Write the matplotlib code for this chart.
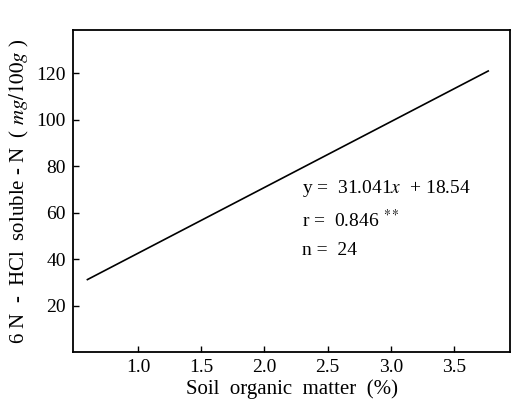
import matplotlib.pyplot as plt

plt.rcParams['font.family'] = ['Liberation Serif', 'DejaVu Serif']
plt.rcParams['mathtext.fontset'] = 'stix'

# regression line endpoints
x_line = [0.60, 3.77]
y_line = [31.2, 121.0]

x_ticks = [1.0, 1.5, 2.0, 2.5, 3.0, 3.5]
y_ticks = [20, 40, 60, 80, 100, 120]

stats = ['y =  31.041$x$  + 18.54', 'r =  0.846 $^{**}$', 'n =  24']

fig = plt.figure(figsize=(5.13, 4.07), dpi=100)
ax = fig.add_axes([0.1423, 0.135, 0.852, 0.791])

ax.plot(x_line, y_line, color='black', lw=1.2)

ax.set_xlim(0.486, 3.943)
ax.set_ylim(0, 138.6)
ax.set_xticks(x_ticks)
ax.set_xticklabels([f'{v:.1f}' for v in x_ticks])
ax.set_yticks(y_ticks)
ax.tick_params(direction='in', length=4, width=1, labelsize=14, pad=5)
for s in ax.spines.values():
    s.set_linewidth(1.3)

for i, t in enumerate(stats):
    ax.text(2.30, 70.2 - i * 13.3, t, fontsize=14, va='center', ha='left')

ax.set_xlabel('Soil  organic  matter  (%)', fontsize=15, labelpad=2)
ax.set_ylabel('6 N  -  HCl  soluble - N  ( $mg/100g$ )', fontsize=15, labelpad=4)

fig.savefig('out.png', dpi=100)
